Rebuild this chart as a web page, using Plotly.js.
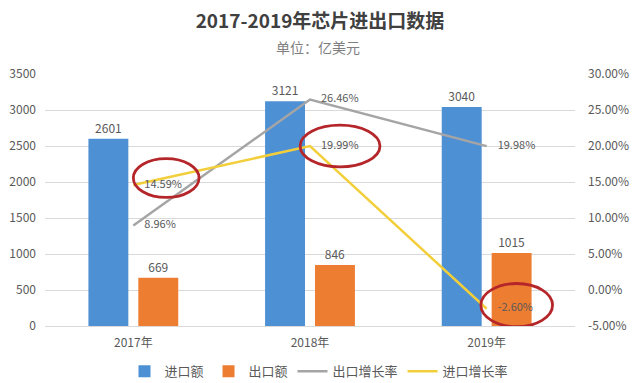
<!DOCTYPE html>
<html><head><meta charset="utf-8">
<script src="https://cdn.plot.ly/plotly-3.0.1.min.js"></script>
<style>html,body{margin:0;padding:0;background:#fff}#chart{width:640px;height:383px}</style>
</head><body><div id="chart"></div>
<script>
const years = ['2017年', '2018年', '2019年'];
const importValue = [2601, 3121, 3040];
const exportValue = [669, 846, 1015];
const exportGrowth = [0.0896, 0.2646, 0.1998];
const importGrowth = [0.1459, 0.1999, -0.0260];
const leftTicks = [0, 500, 1000, 1500, 2000, 2500, 3000, 3500];
const rightTicks = [-0.05, 0, 0.05, 0.10, 0.15, 0.20, 0.25, 0.30];

const FONT = '"Noto Sans CJK SC", "Noto Sans", sans-serif';
const TXT = '#595959';
const PAD = '\u2002\u2002';

const traces = [
  {type:'bar', name:'进口额', x:years, y:importValue, marker:{color:'#4e90d4'},
   text:importValue.map(String), textposition:'outside', cliponaxis:false, constraintext:'none',
   textfont:{size:12, color:TXT}, hoverinfo:'none'},
  {type:'bar', name:'出口额', x:years, y:exportValue, marker:{color:'#ed7d31'},
   text:exportValue.map(String), textposition:'outside', cliponaxis:false, constraintext:'none',
   textfont:{size:12, color:TXT}, hoverinfo:'none'},
  {type:'scatter', mode:'lines+text', name:'出口增长率', x:years, y:exportGrowth, yaxis:'y2',
   line:{color:'#a5a5a5', width:2.5},
   text:exportGrowth.map(v => PAD + (v*100).toFixed(2) + '%'),
   textposition:'middle right', cliponaxis:false,
   textfont:{size:11, color:TXT}, hoverinfo:'none'},
  {type:'scatter', mode:'lines+text', name:'进口增长率', x:years, y:importGrowth, yaxis:'y2',
   line:{color:'#f2cf3a', width:2.5},
   text:importGrowth.map(v => PAD + (v*100).toFixed(2) + '%'),
   textposition:'middle right', cliponaxis:false,
   textfont:{size:11, color:TXT}, hoverinfo:'none'}
];

// red highlight ellipses around the import growth labels, positioned from the data
const ring = [
  {i:0, dx:0.186, dy:0.0097, rx:0.186, ry:0.027},
  {i:1, dx:0.17, dy:0.0, rx:0.226, ry:0.029},
  {i:2, dx:0.17, dy:0.005, rx:0.203, ry:0.030}
];
const shapes = ring.map(r => ({
  type:'circle', xref:'x', yref:'y2', layer:'above',
  x0: r.i + r.dx - r.rx, x1: r.i + r.dx + r.rx,
  y0: importGrowth[r.i] + r.dy - r.ry, y1: importGrowth[r.i] + r.dy + r.ry,
  line:{color:'#b5262a', width:2.8}
}));

const layout = {
  width:640, height:383,
  margin:{l:45, r:65, t:74, b:57, autoexpand:false},
  paper_bgcolor:'#fff', plot_bgcolor:'#fff',
  font:{family:FONT, color:TXT, size:12},
  title:{text:'<b>2017-2019年芯片进出口数据</b>', font:{size:19, color:'#404040', family:FONT},
         x:0.5, xref:'container', xanchor:'center', y:0.943, yref:'container', yanchor:'middle'},
  annotations:[{text:'单位：亿美元', xref:'paper', yref:'paper', x:0.5 + (318 - 310) / 530, y:1.107,
    xanchor:'center', yanchor:'middle', showarrow:false, font:{size:14, color:'#7f7f7f'}}],
  barmode:'group', bargap:0.435, bargroupgap:0.2,
  xaxis:{type:'category', showgrid:false, zeroline:false, showline:false, ticks:'',
         tickfont:{size:12, color:TXT}, range:[-0.5, 2.5], ticklabelstandoff:8},
  yaxis:{range:[0, 3500], tickvals:leftTicks, ticktext:leftTicks.map(String),
         showgrid:true, gridcolor:'#d9d9d9', gridwidth:1, zeroline:true, zerolinecolor:'#d9d9d9',
         showline:false, ticks:'', tickfont:{size:12, color:TXT}, ticklabelstandoff:8},
  yaxis2:{overlaying:'y', side:'right', range:[-0.05, 0.30], tickvals:rightTicks,
          ticktext:rightTicks.map(v => (v*100).toFixed(2) + '%'),
          showgrid:false, zeroline:false, showline:false, ticks:'',
          tickfont:{size:12, color:TXT}, ticklabelstandoff:12},
  legend:{orientation:'h', x:0.5 + (319 - 310) / 530, xanchor:'center', y:-0.18, yanchor:'middle',
          font:{size:13, color:TXT}, traceorder:'normal'},
  shapes:shapes,
  showlegend:true
};

Plotly.newPlot('chart', traces, layout, {displayModeBar:false, staticPlot:true});
</script></body></html>
